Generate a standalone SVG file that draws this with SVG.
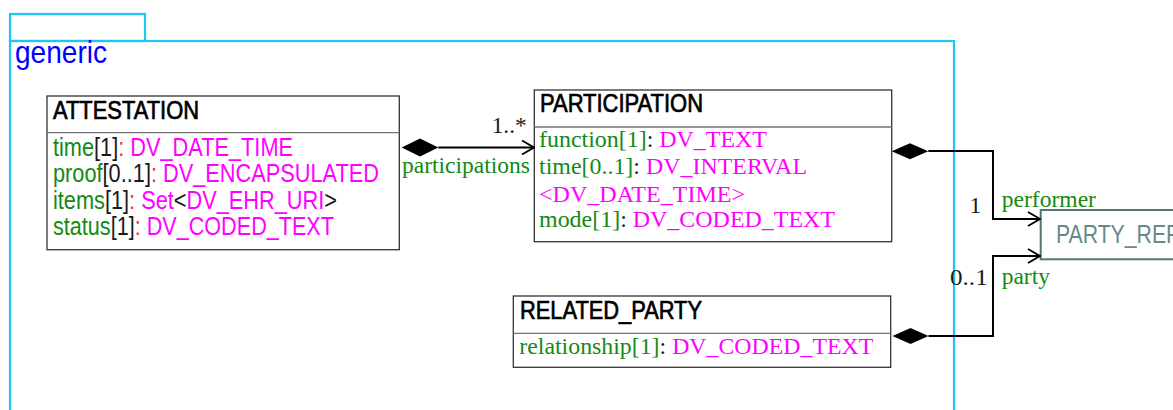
<svg xmlns="http://www.w3.org/2000/svg" width="1173" height="410" viewBox="0 0 1173 410">
<style>
.pkg{fill:none;stroke:#1ec6f4;stroke-width:2.2}
.box{fill:#ffffff;stroke:#333333;stroke-width:1.3}
.div{stroke:#707070;stroke-width:1.3}
.title{font-family:"Liberation Sans Narrow","Liberation Sans",Arial,sans-serif;font-size:25px;fill:#000000;stroke:#000000;stroke-width:0.7}
.sans{font-family:"Liberation Sans Narrow","Liberation Sans",Arial,sans-serif;font-size:25px}
.serif{font-family:"Liberation Serif","Times New Roman",serif;font-size:23.5px}
.g{fill:#138a13}
.k{fill:#1a1a1a}
.r{fill:#ff3030}
.m{fill:#ff00ff}
.conn{fill:none;stroke:#000000;stroke-width:2}
.dia{fill:#000000;stroke:none}
</style>
<defs>
<marker id="open" viewBox="0 0 14 16" refX="13" refY="8" markerWidth="14" markerHeight="16" markerUnits="userSpaceOnUse" orient="auto">
<path d="M1,1 L13,8 L1,15" fill="none" stroke="#000" stroke-width="1.8"/>
</marker>
</defs>
<g id="package-generic">
<rect class="pkg" x="10" y="14" width="135" height="27"/>
<rect class="pkg" x="10" y="41" width="944" height="390"/>
<text x="15" y="63" font-family="Liberation Sans, Arial, sans-serif" font-size="32" fill="#0000ff" textLength="92" lengthAdjust="spacingAndGlyphs">generic</text>
</g>
<g id="ATTESTATION">
<rect class="box" x="47" y="96" width="352.3" height="153.7"/>
<line class="div" x1="47" y1="132.7" x2="399.3" y2="132.7"/>
<text class="title" x="53" y="118.5" textLength="146" lengthAdjust="spacingAndGlyphs">ATTESTATION</text>
<text class="sans" x="53" y="156" textLength="240" lengthAdjust="spacingAndGlyphs"><tspan class="g">time</tspan><tspan class="k">[1]</tspan><tspan class="r">:</tspan><tspan class="m"> DV_DATE_TIME</tspan></text>
<text class="sans" x="53" y="182.3" textLength="326" lengthAdjust="spacingAndGlyphs"><tspan class="g">proof</tspan><tspan class="k">[0..1]</tspan><tspan class="r">:</tspan><tspan class="m"> DV_ENCAPSULATED</tspan></text>
<text class="sans" x="53" y="208.6" textLength="284" lengthAdjust="spacingAndGlyphs"><tspan class="g">items</tspan><tspan class="k">[1]</tspan><tspan class="r">:</tspan><tspan class="m"> Set</tspan><tspan class="k">&lt;</tspan><tspan class="m">DV_EHR_URI</tspan><tspan class="k">&gt;</tspan></text>
<text class="sans" x="53" y="235" textLength="281" lengthAdjust="spacingAndGlyphs"><tspan class="g">status</tspan><tspan class="k">[1]</tspan><tspan class="r">:</tspan><tspan class="m"> DV_CODED_TEXT</tspan></text>
</g>
<g id="PARTICIPATION">
<rect class="box" x="534.3" y="90" width="357.4" height="151.7"/>
<line class="div" x1="534.3" y1="127" x2="891.7" y2="127"/>
<text class="title" x="540" y="112" textLength="163" lengthAdjust="spacingAndGlyphs">PARTICIPATION</text>
<text class="serif" x="539" y="146.7" textLength="228" lengthAdjust="spacingAndGlyphs"><tspan class="g">function[1]</tspan><tspan class="k">:</tspan><tspan class="m"> DV_TEXT</tspan></text>
<text class="serif" x="539" y="174.3" textLength="268" lengthAdjust="spacingAndGlyphs"><tspan class="g">time[0..1]</tspan><tspan class="k">:</tspan><tspan class="m"> DV_INTERVAL</tspan></text>
<text class="serif m" x="539" y="201.5" textLength="206" lengthAdjust="spacingAndGlyphs">&lt;DV_DATE_TIME&gt;</text>
<text class="serif" x="539" y="227" textLength="296" lengthAdjust="spacingAndGlyphs"><tspan class="g">mode[1]</tspan><tspan class="k">:</tspan><tspan class="m"> DV_CODED_TEXT</tspan></text>
</g>
<g id="RELATED_PARTY">
<rect class="box" x="513.3" y="296" width="377.4" height="71.3"/>
<line class="div" x1="513.3" y1="333.3" x2="890.7" y2="333.3"/>
<text class="title" x="520" y="319" textLength="182" lengthAdjust="spacingAndGlyphs">RELATED_PARTY</text>
<text class="serif" x="519.3" y="353.5" textLength="354" lengthAdjust="spacingAndGlyphs"><tspan class="g">relationship[1]</tspan><tspan class="k">:</tspan><tspan class="m"> DV_CODED_TEXT</tspan></text>
</g>
<g id="PARTY_REF">
<rect x="1040.7" y="210" width="200" height="49.3" fill="#ffffff" stroke="#507676" stroke-width="2"/>
<text x="1056" y="242.7" font-family="Liberation Sans Narrow, Liberation Sans, Arial, sans-serif" font-size="26" fill="#668a8a" textLength="123" lengthAdjust="spacingAndGlyphs">PARTY_REF</text>
</g>
<g id="connectors">
<polygon class="dia" points="401.7,147.5 420,138.5 438.3,147.5 420,156.5"/>
<path class="conn" d="M438.3,147.5 L534,147.5" marker-end="url(#open)"/>
<text class="serif g" x="402" y="172.5" textLength="128" lengthAdjust="spacingAndGlyphs">participations</text>
<text class="serif k" x="491.7" y="133" textLength="35" lengthAdjust="spacingAndGlyphs">1..*</text>
<polygon class="dia" points="891.7,151.2 910,143.2 928.3,151.2 910,159.2"/>
<path class="conn" d="M928.3,151 L993,151 L993,219 L1040,219" marker-end="url(#open)"/>
<text class="serif g" x="1001.7" y="206.5" textLength="94.3" lengthAdjust="spacingAndGlyphs">performer</text>
<text class="serif k" x="969.5" y="212.7">1</text>
<polygon class="dia" points="892.5,336 910.5,328 928.5,336 910.5,344"/>
<path class="conn" d="M928.5,336 L993,336 L993,256 L1040,256" marker-end="url(#open)"/>
<text class="serif g" x="1001.7" y="283.5">party</text>
<text class="serif k" x="950" y="285" textLength="37.7" lengthAdjust="spacingAndGlyphs">0..1</text>
</g>
</svg>
